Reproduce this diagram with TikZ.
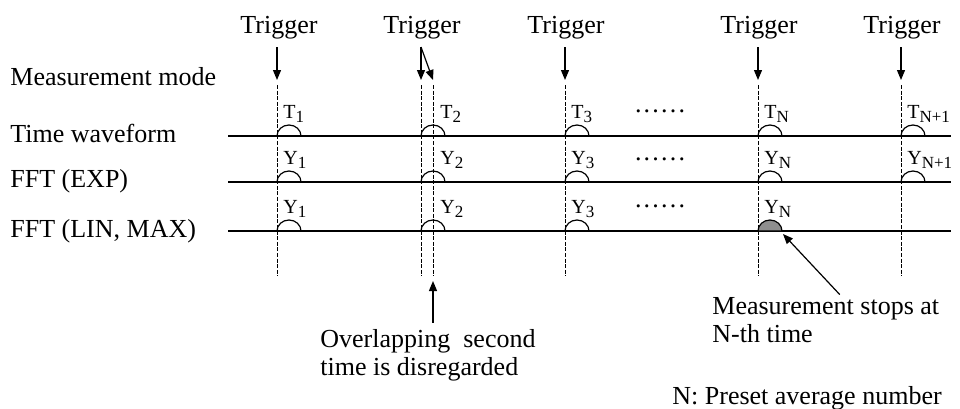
\documentclass[tikz,border=0pt]{standalone}
\usepackage{fontspec}
\setmainfont{Liberation Serif}
\usetikzlibrary{arrows.meta}
\definecolor{stopgray}{HTML}{8E8E8E}
\newcommand{\sublabel}[2]{#1\raisebox{-2pt}{\fontsize{8.5}{9}\selectfont #2}}
\newcommand{\dotrow}{.\kern1.1pt.\kern1.1pt.\kern1.1pt.\kern1.1pt.\kern1.1pt.}

\begin{document}
\begin{tikzpicture}[x=0.5pt,y=-0.5pt,every node/.style={inner sep=0pt},
  labeltext/.style={font=\fontsize{13}{14}\selectfont},
  symtext/.style={font=\fontsize{10}{11}\selectfont,anchor=base west},
  waveline/.style={line width=1.3pt},
  trigline/.style={line width=0.5pt,dash pattern=on 2pt off 0.8pt},
  trigarrow/.style={line width=0.6pt,-{Triangle[length=5pt,width=4pt]}},
  avgarc/.style={line width=0.6pt}]
  \useasboundingbox (0,0) rectangle (960,408);

  % row names
  \node[labeltext,anchor=base west] (modelbl) at (10,85) {Measurement mode};
  \node[labeltext,anchor=base west] (timelbl) at (10,142) {Time waveform};
  \node[labeltext,anchor=base west] (explbl) at (10,187) {FFT (EXP)};
  \node[labeltext,anchor=base west] (linlbl) at (10,237) {FFT (LIN, MAX)};

  % dashed trigger lines
  \coordinate (dA) at (277,85);  \coordinate (dAb) at (277,276);
  \coordinate (dB) at (421,85);  \coordinate (dBb) at (421,276);
  \coordinate (dB2) at (433,85); \coordinate (dB2b) at (433,276);
  \coordinate (dC) at (565,85);  \coordinate (dCb) at (565,276);
  \coordinate (dD) at (758,85);  \coordinate (dDb) at (758,276);
  \coordinate (dE) at (901,85);  \coordinate (dEb) at (901,276);
  \draw[trigline] (dA) -- (dAb);
  \draw[trigline] (dB) -- (dBb);
  \draw[trigline] (dB2) -- (dB2b);
  \draw[trigline] (dC) -- (dCb);
  \draw[trigline] (dD) -- (dDb);
  \draw[trigline] (dE) -- (dEb);

  % waveform rows
  \coordinate (timeL) at (228,136); \coordinate (timeR) at (951,136);
  \coordinate (expL) at (228,182);  \coordinate (expR) at (951,182);
  \coordinate (linL) at (228,231);  \coordinate (linR) at (951,231);
  \draw[waveline] (timeL) -- (timeR);
  \draw[waveline] (expL) -- (expR);
  \draw[waveline] (linL) -- (linR);

  % triggers
  \node[labeltext,anchor=base] (trigA) at (279,33) {Trigger};
  \node[labeltext,anchor=base] (trigB) at (422,33) {Trigger};
  \node[labeltext,anchor=base] (trigC) at (566,33) {Trigger};
  \node[labeltext,anchor=base] (trigD) at (759,33) {Trigger};
  \node[labeltext,anchor=base] (trigE) at (902,33) {Trigger};
  \draw[trigarrow] ([yshift=-4pt]trigA.south -| dA) -- ([yshift=2.5pt]dA);
  \draw[trigarrow] ([yshift=-4pt]trigB.south -| dB) -- ([yshift=2.5pt]dB);
  \draw[trigarrow] ([yshift=-4pt]trigB.south -| dB) -- ([yshift=2.5pt]dB2);
  \draw[trigarrow] ([yshift=-4pt]trigC.south -| dC) -- ([yshift=2.5pt]dC);
  \draw[trigarrow] ([yshift=-4pt]trigD.south -| dD) -- ([yshift=2.5pt]dD);
  \draw[trigarrow] ([yshift=-4pt]trigE.south -| dE) -- ([yshift=2.5pt]dE);

  % averaging arcs
  \draw[avgarc] (timeL -| dA) arc[start angle=180,end angle=0,x radius=6pt,y radius=5.5pt];
  \draw[avgarc] (timeL -| dB) arc[start angle=180,end angle=0,x radius=6pt,y radius=5.5pt];
  \draw[avgarc] (timeL -| dC) arc[start angle=180,end angle=0,x radius=6pt,y radius=5.5pt];
  \draw[avgarc] (timeL -| dD) arc[start angle=180,end angle=0,x radius=6pt,y radius=5.5pt];
  \draw[avgarc] (timeL -| dE) arc[start angle=180,end angle=0,x radius=6pt,y radius=5.5pt];
  \draw[avgarc] (expL -| dA) arc[start angle=180,end angle=0,x radius=6pt,y radius=5.5pt];
  \draw[avgarc] (expL -| dB) arc[start angle=180,end angle=0,x radius=6pt,y radius=5.5pt];
  \draw[avgarc] (expL -| dC) arc[start angle=180,end angle=0,x radius=6pt,y radius=5.5pt];
  \draw[avgarc] (expL -| dD) arc[start angle=180,end angle=0,x radius=6pt,y radius=5.5pt];
  \draw[avgarc] (expL -| dE) arc[start angle=180,end angle=0,x radius=6pt,y radius=5.5pt];
  \draw[avgarc] (linL -| dA) arc[start angle=180,end angle=0,x radius=6pt,y radius=5.5pt];
  \draw[avgarc] (linL -| dB) arc[start angle=180,end angle=0,x radius=6pt,y radius=5.5pt];
  \draw[avgarc] (linL -| dC) arc[start angle=180,end angle=0,x radius=6pt,y radius=5.5pt];
  \filldraw[avgarc,fill=stopgray] (linL -| dD) arc[start angle=180,end angle=0,x radius=6pt,y radius=5.5pt] -- cycle;

  % symbols
  \node[symtext] (tA) at (283,118) {\sublabel{T}{1}};
  \node[symtext] (tB) at (440,118) {\sublabel{T}{2}};
  \node[symtext] (tC) at (571,118) {\sublabel{T}{3}};
  \node[symtext] (tD) at (764,118) {\sublabel{T}{N}};
  \node[symtext] (tE) at (907,118) {\sublabel{T}{N+1}};
  \node[symtext] (yA) at (283,164) {\sublabel{Y}{1}};
  \node[symtext] (yB) at (440,164) {\sublabel{Y}{2}};
  \node[symtext] (yC) at (571,164) {\sublabel{Y}{3}};
  \node[symtext] (yD) at (764,164) {\sublabel{Y}{N}};
  \node[symtext] (yE) at (907,164) {\sublabel{Y}{N+1}};
  \node[symtext] (zA) at (283,213) {\sublabel{Y}{1}};
  \node[symtext] (zB) at (440,213) {\sublabel{Y}{2}};
  \node[symtext] (zC) at (571,213) {\sublabel{Y}{3}};
  \node[symtext] (zD) at (764,213) {\sublabel{Y}{N}};
  \node[labeltext,anchor=base] (dotsT) at (660,112) {\dotrow};
  \node[labeltext,anchor=base] (dotsE) at (660,160) {\dotrow};
  \node[labeltext,anchor=base] (dotsL) at (660,207) {\dotrow};

  % notes
  \node[labeltext,anchor=base west,align=left] (overlap) at (320,375) {Overlapping\ \ second\\time is disregarded};
  \node[labeltext,anchor=base west,align=left] (stopnote) at (712,342) {Measurement stops at\\N-th time};
  \node[labeltext,anchor=base west] (avgnote) at (672,404) {N: Preset average number};
  \coordinate (stoptip) at (783,234);
  \draw[trigarrow] ([yshift=3pt]overlap.north -| dB2) -- ([yshift=-2.5pt]dB2b);
  \draw[trigarrow] ([xshift=7pt,yshift=1pt]stopnote.north) -- (stoptip);
\end{tikzpicture}
\end{document}
